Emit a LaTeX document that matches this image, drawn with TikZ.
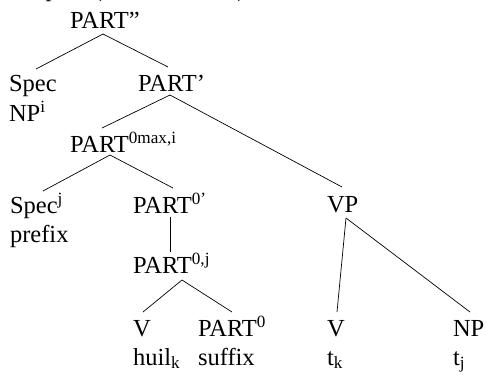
\documentclass[tikz,border=0pt]{standalone}
\usepackage{fontspec}
\setmainfont{Liberation Serif}
\newcommand\treefont{\fontsize{24.5bp}{29.5bp}\selectfont}
\tikzset{
  lbl/.style={inner sep=0pt, outer sep=0pt, anchor=base west, font=\treefont},
  branch/.style={draw=black, line width=0.7bp},
}
\begin{document}
\begin{tikzpicture}[x=1bp, y=-1bp]
\useasboundingbox (0,0) rectangle (487,374);
% clipped caption remnant at the top
\node[lbl] (cap) at (-2,-3.5) {Complex (PARTICIPLE)};
% nodes
\node[lbl] (pp)    at (70,28.7)  {PART”};
\node[lbl] (spec1) at (9,91)     {Spec};
\node[lbl] (np1)   at (9,121)    {NP\textsuperscript{i}};
\node[lbl] (p1)    at (138,91)   {PART’};
\node[lbl] (pmax)  at (70,152)   {PART\textsuperscript{0max,i}};
\node[lbl] (spec2) at (10,213)   {Spec\textsuperscript{j}};
\node[lbl] (pref)  at (10,242)   {prefix};
\node[lbl] (p0p)   at (133,213)  {PART\textsuperscript{0’}};
\node[lbl] (vp)    at (327,212)  {VP};
\node[lbl] (p0j)   at (133,273)  {PART\textsuperscript{0,j}};
\node[lbl] (v1)    at (133,336)  {V};
\node[lbl] (huil)  at (133,365)  {huil\textsubscript{k}};
\node[lbl] (part0) at (198,336)  {PART\textsuperscript{0}};
\node[lbl] (suff)  at (198,365)  {suffix};
\node[lbl] (v2)    at (327,336)  {V};
\node[lbl] (tk)    at (327,365)  {t\textsubscript{k}};
\node[lbl] (np2)   at (453,336)  {NP};
\node[lbl] (tj)    at (453,365)  {t\textsubscript{j}};
% branches
\draw[branch] ([shift={(33,5.3)}]pp.base west) -- ([shift={(27,-22)}]spec1.base west);
\draw[branch] ([shift={(33,5.3)}]pp.base west) -- ([shift={(30,-24)}]p1.base west);
\draw[branch] ([shift={(32,4)}]p1.base west) -- ([shift={(32,-24)}]pmax.base west);
\draw[branch] ([shift={(32,4)}]p1.base west) -- ([shift={(15,-25)}]vp.base west);
\draw[branch] ([shift={(40,3)}]pmax.base west) -- ([shift={(33,-22)}]spec2.base west);
\draw[branch] ([shift={(40,3)}]pmax.base west) -- ([shift={(40,-25)}]p0p.base west);
\draw[branch] ([shift={(37,4)}]p0p.base west) -- ([shift={(37,-21)}]p0j.base west);
\draw[branch] ([shift={(49,7)}]p0j.base west) -- ([shift={(10,-24)}]v1.base west);
\draw[branch] ([shift={(49,7)}]p0j.base west) -- ([shift={(34,-24)}]part0.base west);
\draw[branch] ([shift={(19,6)}]vp.base west) -- ([shift={(10,-24)}]v2.base west);
\draw[branch] ([shift={(19,6)}]vp.base west) -- ([shift={(17,-24)}]np2.base west);
\end{tikzpicture}
\end{document}
